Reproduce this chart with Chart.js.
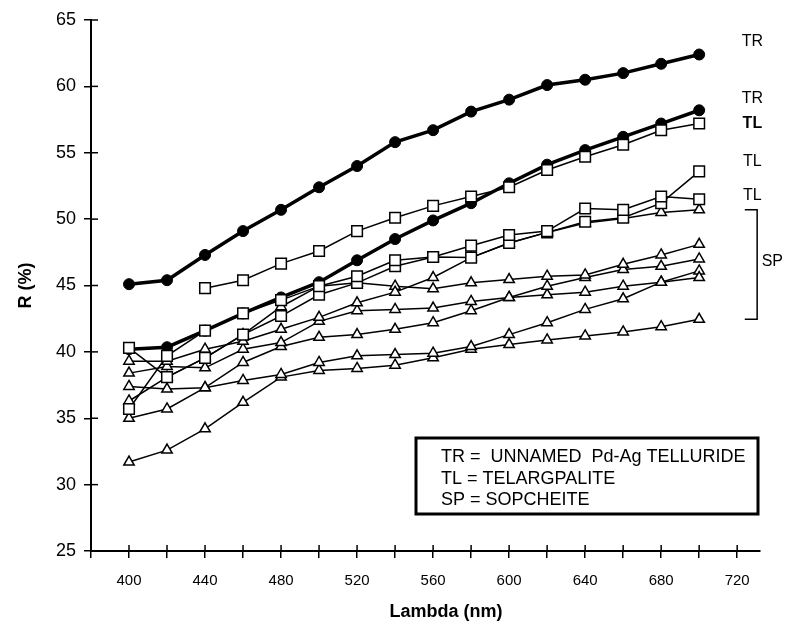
<!DOCTYPE html>
<html>
<head>
<meta charset="utf-8">
<script src="https://cdn.jsdelivr.net/npm/chart.js@4.4.0/dist/chart.umd.min.js"></script>
<style>
  html, body { margin: 0; padding: 0; background: #fff; }
</style>
</head>
<body>
<canvas id="main-chart" width="796" height="626"></canvas>
<script>
// wavelength (nm)
const lambda = [400, 420, 440, 460, 480, 500, 520, 540, 560, 580, 600, 620, 640, 660, 680, 700];

// TR = unnamed Pd-Ag telluride
const tr1 = [45.1, 45.4, 47.3, 49.1, 50.7, 52.4, 54.0, 55.8, 56.7, 58.1, 59.0, 60.1, 60.5, 61.0, 61.7, 62.4];
const tr2 = [40.2, 40.35, 41.6, 42.9, 44.1, 45.25, 46.9, 48.5, 49.9, 51.2, 52.7, 54.1, 55.2, 56.2, 57.2, 58.2];

// TL = telargpalite
const tl1 = [null, null, 44.8, 45.4, 46.65, 47.6, 49.1, 50.1, 51.0, 51.7, 52.4, 53.7, 54.7, 55.6, 56.7, 57.2];
const tl2 = [35.7, 39.7, 41.6, 42.9, 43.9, 44.95, 45.7, 46.9, 47.15, 48.0, 48.8, 49.1, 50.8, 50.7, 51.7, 51.5];
const tl3 = [40.3, 38.1, 39.55, 41.3, 42.7, 44.3, 45.2, 46.45, 47.15, 47.1, 48.2, 49.0, 49.8, 50.1, 51.2, 53.6];

// SP = sopcheite
const sp1 = [39.3, 39.3, 40.2, 40.8, 41.7, 42.6, 43.7, 44.5, 45.6, 47.1, 48.2, 49.0, 49.7, 50.05, 50.5, 50.7];
const sp2 = [36.3, 38.1, 39.55, 41.3, 43.4, 44.95, 45.2, 44.95, 44.75, 45.2, 45.45, 45.7, 45.8, 46.6, 47.3, 48.1];
const sp3 = [38.4, 38.9, 38.8, 40.2, 40.7, 42.3, 43.1, 43.2, 43.3, 43.8, 44.1, 44.95, 45.6, 46.2, 46.45, 47.0];
const sp4 = [35.0, 35.7, 37.3, 39.2, 40.4, 41.1, 41.3, 41.7, 42.2, 43.1, 44.1, 44.3, 44.5, 44.95, 45.25, 45.6];
const sp5 = [37.4, 37.2, 37.3, 37.85, 38.3, 39.2, 39.7, 39.8, 39.9, 40.4, 41.3, 42.2, 43.2, 44.0, 45.25, 46.1];
const sp6 = [31.7, 32.6, 34.2, 36.2, 38.1, 38.6, 38.75, 39.0, 39.55, 40.2, 40.55, 40.9, 41.2, 41.5, 41.9, 42.45];

// axis ticks
const xTickLabels = [400, 440, 480, 520, 560, 600, 640, 680, 720];
const yTicks = [25, 30, 35, 40, 45, 50, 55, 60, 65];

// text
const sideLabels = ["TR", "TR", "TL", "TL", "TL"];
const legendLines = ["TR =  UNNAMED  Pd-Ag TELLURIDE", "TL = TELARGPALITE", "SP = SOPCHEITE"];

const FONT = "'Liberation Sans', Arial, sans-serif";
Chart.defaults.font.family = FONT;
Chart.defaults.color = "black";

function pts(arr) {
  return arr.map(function (v, i) { return { x: lambda[i], y: v }; });
}

function trSet(arr) {
  return {
    data: pts(arr),
    borderColor: "black",
    borderWidth: 3.5,
    pointStyle: "circle",
    pointRadius: 5.5,
    pointBackgroundColor: "black",
    pointBorderColor: "black",
    pointBorderWidth: 1,
  };
}
function tlSet(arr) {
  return {
    data: pts(arr),
    borderColor: "black",
    borderWidth: 1.5,
    pointStyle: "rect",
    pointRadius: 7.5,
    pointBackgroundColor: "white",
    pointBorderColor: "black",
    pointBorderWidth: 1.5,
  };
}
function spSet(arr) {
  return {
    data: pts(arr),
    borderColor: "black",
    borderWidth: 1.5,
    pointStyle: "triangle",
    pointRadius: 6,
    pointBackgroundColor: "white",
    pointBorderColor: "black",
    pointBorderWidth: 1.5,
  };
}

// ticks that cross into the plot area
const innerTicks = {
  id: "innerTicks",
  afterDatasetsDraw(chart) {
    const { ctx, chartArea, scales } = chart;
    ctx.save();
    ctx.strokeStyle = "black";
    ctx.lineWidth = 1.5;
    scales.x.ticks.forEach(function (t) {
      const px = scales.x.getPixelForValue(t.value);
      ctx.beginPath();
      ctx.moveTo(px, chartArea.bottom);
      ctx.lineTo(px, chartArea.bottom - 6);
      ctx.stroke();
    });
    scales.y.ticks.forEach(function (t) {
      const py = scales.y.getPixelForValue(t.value);
      ctx.beginPath();
      ctx.moveTo(chartArea.left, py);
      ctx.lineTo(chartArea.left + 7, py);
      ctx.stroke();
    });
    ctx.restore();
  },
};

// TR / TL labels, SP bracket, key box, x title
const notes = {
  id: "notes",
  afterDraw(chart) {
    const { ctx, scales } = chart;
    const x = scales.x, y = scales.y;
    ctx.save();
    ctx.fillStyle = "black";
    ctx.strokeStyle = "black";
    ctx.textBaseline = "middle";
    ctx.textAlign = "center";
    const labelY = [63.4, 59.1, 57.2, 54.3, 51.8];
    sideLabels.forEach(function (s, i) {
      ctx.font = (i === 2 ? "bold " : "") + "16px " + FONT;
      ctx.fillText(s, x.getPixelForValue(728), y.getPixelForValue(labelY[i]));
    });

    // bracket round the SP ends
    const ends = [sp1, sp2, sp3, sp4, sp5, sp6].map(function (a) { return a[a.length - 1]; });
    const top = y.getPixelForValue(Math.max.apply(null, ends));
    const bot = y.getPixelForValue(Math.min.apply(null, ends));
    const bx = x.getPixelForValue(730.5);
    const bl = x.getPixelForValue(724);
    ctx.lineWidth = 1.5;
    ctx.beginPath();
    ctx.moveTo(bl, top);
    ctx.lineTo(bx, top);
    ctx.lineTo(bx, bot);
    ctx.lineTo(bl, bot);
    ctx.stroke();
    ctx.font = "16px " + FONT;
    ctx.fillText("SP", x.getPixelForValue(738.5), (top + bot) / 2 - 3);

    // x title
    ctx.font = "bold 18px " + FONT;
    ctx.fillText("Lambda (nm)", 446, 612);

    // key box
    ctx.lineWidth = 3;
    ctx.strokeRect(416, 438, 342, 76);
    ctx.textAlign = "left";
    ctx.font = "18px " + FONT;
    const ly = [457, 479, 500];
    legendLines.forEach(function (s, i) {
      ctx.fillText(s, 441, ly[i]);
    });
    ctx.restore();
  },
};

new Chart(document.getElementById("main-chart"), {
  type: "line",
  data: {
    datasets: [
      tlSet(tl1), tlSet(tl2), tlSet(tl3),
      trSet(tr1), trSet(tr2),
      spSet(sp1), spSet(sp2), spSet(sp3), spSet(sp4), spSet(sp5), spSet(sp6),
    ],
  },
  options: {
    responsive: false,
    animation: false,
    devicePixelRatio: 1,
    layout: { padding: { top: 20, right: 36, left: 0, bottom: 0 } },
    plugins: { legend: { display: false }, tooltip: { enabled: false } },
    scales: {
      x: {
        type: "linear",
        min: 380,
        max: 732,
        afterFit: function (s) { s.height = 75; },
        grid: { drawOnChartArea: false, drawTicks: true, tickLength: 7, color: "black", lineWidth: 1.5 },
        border: { display: true, color: "black", width: 2 },
        ticks: {
          stepSize: 20,
          includeBounds: false,
          autoSkip: false,
          maxRotation: 0,
          padding: 14,
          font: { size: 15 },
          callback: function (v) { return xTickLabels.indexOf(v) >= 0 ? String(v) : ""; },
        },
        title: { display: false },
      },
      y: {
        min: 25,
        max: 65,
        afterFit: function (s) { s.width = 91; },
        afterBuildTicks: function (s) { s.ticks = yTicks.map(function (v) { return { value: v }; }); },
        grid: { drawOnChartArea: false, drawTicks: true, tickLength: 7, color: "black", lineWidth: 1.5 },
        border: { display: true, color: "black", width: 2 },
        ticks: { padding: 8, font: { size: 18 } },
        title: { display: true, text: "R (%)", font: { size: 18, weight: "bold" }, padding: { top: 15, bottom: 0 } },
      },
    },
  },
  plugins: [innerTicks, notes],
});
</script>
</body>
</html>
